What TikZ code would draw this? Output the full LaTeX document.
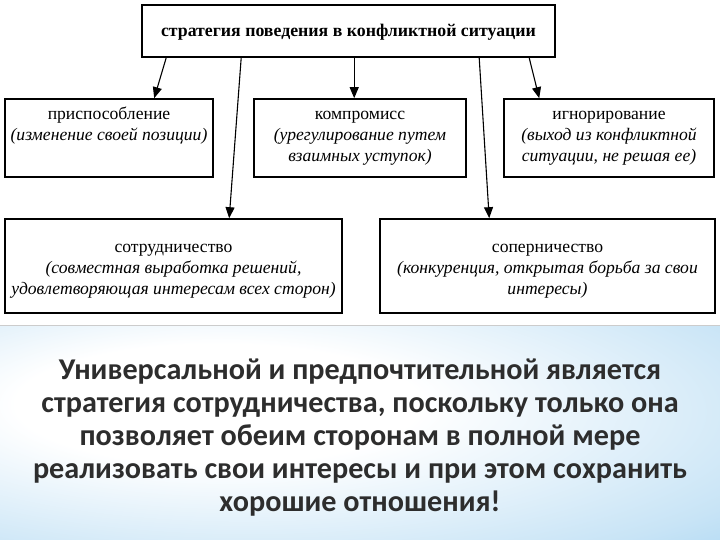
\documentclass[tikz,border=0pt]{standalone}
\usepackage{fontspec}
\setmainfont{Liberation Serif}
\newfontfamily\panelfont{Carlito}
\usetikzlibrary{arrows.meta,calc}
\definecolor{panelblueA}{RGB}{200,228,246}
\definecolor{panelblueB}{RGB}{130,196,238}
\definecolor{paneltext}{RGB}{45,45,45}
\pgfdeclareradialshading{panelshade}{\pgfpoint{-12bp}{8bp}}{color(0bp)=(white); color(14bp)=(white); color(38bp)=(panelblueA); color(60bp)=(panelblueB); color(80bp)=(panelblueB)}
\tikzset{
  box/.style={draw=black, line width=1.6pt, inner sep=0pt, fill=white},
  lbl/.style={align=center, inner sep=0pt, font=\fontsize{17.6}{21}\selectfont, anchor=north},
  arr/.style={line width=1.1pt, -{Triangle[width=9pt,length=11pt]}},
}
\begin{document}
\begin{tikzpicture}[x=1pt,y=-1pt]
\useasboundingbox (0,0) rectangle (720,540);
\fill[white] (0,0) rectangle (720,540);
% panel
\path[shading=panelshade] (0,325) rectangle (720,540);
\draw[gray!40, line width=0.6pt] (0,325) -- (720,325);
% boxes
\node[box, minimum width=413pt, minimum height=52pt] (top) at (348.5,31) {};
\node[box, minimum width=208pt, minimum height=78pt] (pr) at (109,138) {};
\node[box, minimum width=212pt, minimum height=78pt] (km) at (360,138) {};
\node[box, minimum width=210pt, minimum height=78pt] (ig) at (609,138) {};
\node[box, minimum width=337pt, minimum height=94pt] (so) at (173.5,266) {};
\node[box, minimum width=335pt, minimum height=94pt] (sp) at (547.5,266) {};
% texts
\node[lbl, anchor=center, font=\fontsize{17.8}{20}\selectfont\bfseries] (topt) at ($(top.center)+(0,1.5)$) {стратегия поведения в конфликтной ситуации};
\node[lbl] (prt) at ($(pr.north)+(0,6.3)$) {\strut приспособление\\\textit{(изменение своей позиции)}};
\node[lbl] (kmt) at ($(km.north)+(0,6.3)$) {\strut компромисс\\\textit{(урегулирование путем}\\\textit{взаимных уступок)}};
\node[lbl] (igt) at ($(ig.north)+(0,6.3)$) {\strut игнорирование\\\textit{(выход из конфликтной}\\\textit{ситуации, не решая ее)}};
\node[lbl] (sot) at ($(so.north)+(0,19.3)$) {\strut сотрудничество\\\textit{(совместная выработка решений,}\\\textit{удовлетворяющая интересам всех сторон)}};
\node[lbl] (spt) at ($(sp.north)+(0,19.3)$) {\strut соперничество\\\textit{(конкуренция, открытая борьба за свои}\\\textit{интересы)}};
% arrows
\draw[arr] ($(top.south west)+(25,0)$) -- ($(pr.north west)+(150,0)$);
\draw[arr] ($(top.south west)+(100,0)$) -- ($(so.north west)+(225,0)$);
\draw[arr] ($(top.south west)+(213,0)$) -- ($(km.north west)+(101,0)$);
\draw[arr] ($(top.south west)+(338,0)$) -- ($(sp.north west)+(110,0)$);
\draw[arr] ($(top.south west)+(388,0)$) -- ($(ig.north west)+(36,0)$);
% panel text
\node[align=center, inner sep=0pt, text=paneltext, font=\panelfont\bfseries\fontsize{30.2}{33}\selectfont] (panelt) at (360,438) {Универсальной и предпочтительной является\\стратегия сотрудничества, поскольку только она\\позволяет обеим сторонам в полной мере\\реализовать свои интересы и при этом сохранить\\хорошие отношения!};
\end{tikzpicture}
\end{document}
